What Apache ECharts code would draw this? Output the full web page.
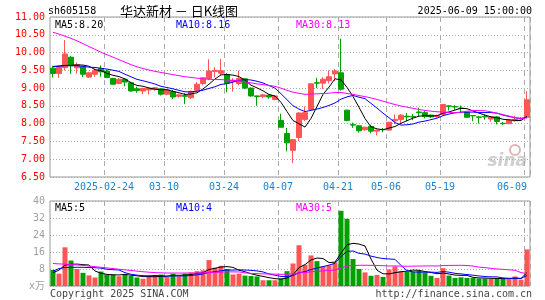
<!DOCTYPE html>
<html>
<head>
<meta charset="utf-8">
<script src="https://cdn.jsdelivr.net/npm/echarts@6/dist/echarts.min.js"></script>
<style>
  html, body { margin: 0; padding: 0; background: #fff; }
  #chart { width: 545px; height: 300px; }
</style>
</head>
<body>
<div id="chart"></div>
<script>
// trading days shown (2025)
const dates = [
  '2025-02-11', '2025-02-12', '2025-02-13', '2025-02-14',
  '2025-02-17', '2025-02-18', '2025-02-19', '2025-02-20', '2025-02-21',
  '2025-02-24', '2025-02-25', '2025-02-26', '2025-02-27', '2025-02-28',
  '2025-03-03', '2025-03-04', '2025-03-05', '2025-03-06', '2025-03-07',
  '2025-03-10', '2025-03-11', '2025-03-12', '2025-03-13', '2025-03-14',
  '2025-03-17', '2025-03-18', '2025-03-19', '2025-03-20', '2025-03-21',
  '2025-03-24', '2025-03-25', '2025-03-26', '2025-03-27', '2025-03-28',
  '2025-03-31', '2025-04-01', '2025-04-02', '2025-04-03',
  '2025-04-07', '2025-04-08', '2025-04-09', '2025-04-10', '2025-04-11',
  '2025-04-14', '2025-04-15', '2025-04-16', '2025-04-17', '2025-04-18',
  '2025-04-21', '2025-04-22', '2025-04-23', '2025-04-24', '2025-04-25',
  '2025-04-28', '2025-04-29', '2025-04-30',
  '2025-05-06', '2025-05-07', '2025-05-08', '2025-05-09',
  '2025-05-12', '2025-05-13', '2025-05-14', '2025-05-15', '2025-05-16',
  '2025-05-19', '2025-05-20', '2025-05-21', '2025-05-22', '2025-05-23',
  '2025-05-26', '2025-05-27', '2025-05-28', '2025-05-29', '2025-05-30',
  '2025-06-03', '2025-06-04', '2025-06-05', '2025-06-06',
  '2025-06-09'
];
const tickDates = ['2025-02-24', '2025-03-10', '2025-03-24', '2025-04-07',
  '2025-04-21', '2025-05-06', '2025-05-19', '2025-06-09'];

const opens = [
  9.56, 9.41, 9.58, 9.87, 9.57, 9.60, 9.31, 9.39, 9.55, 9.48,
  9.27, 9.13, 9.25, 9.15, 8.98, 8.92, 8.95, 8.96, 8.98, 8.83,
  8.90, 8.77, 8.79, 8.73, 8.94, 9.13, 9.27, 9.47, 9.42, 9.38,
  9.18, 9.13, 9.26, 9.00, 8.78, 8.76, 8.80, 8.68, 8.09, 7.72,
  7.25, 7.61, 8.12, 8.40, 9.15, 9.14, 9.21, 9.40, 9.43, 8.38,
  7.97, 7.94, 7.83, 7.92, 7.79, 7.84, 7.82, 8.08, 8.12, 8.21,
  8.20, 8.33, 8.31, 8.24, 8.20, 8.26, 8.50, 8.48, 8.44, 8.32,
  8.23, 8.19, 8.20, 8.13, 8.19, 8.01, 8.00, 8.08, 8.13, 8.18
];
const closes = [
  9.41, 9.60, 9.96, 9.63, 9.66, 9.39, 9.43, 9.50, 9.46, 9.30,
  9.11, 9.25, 9.17, 8.92, 8.93, 8.99, 9.00, 9.01, 8.83, 8.95,
  8.75, 8.81, 8.77, 8.90, 9.11, 9.29, 9.48, 9.50, 9.49, 9.14,
  9.22, 9.27, 9.00, 8.78, 8.76, 8.81, 8.75, 8.78, 7.90, 7.46,
  7.55, 8.30, 8.31, 9.12, 9.14, 9.25, 9.32, 9.48, 8.97, 8.09,
  7.96, 7.80, 7.90, 7.79, 7.82, 7.83, 8.04, 8.12, 8.24, 8.19,
  8.19, 8.31, 8.20, 8.19, 8.23, 8.54, 8.49, 8.47, 8.43, 8.18,
  8.22, 8.18, 8.19, 8.19, 8.06, 8.00, 8.10, 8.12, 8.16, 8.67
];
const lows = [
  9.30, 9.29, 9.50, 9.40, 9.41, 9.31, 9.29, 9.32, 9.32, 9.28,
  9.09, 9.11, 9.05, 8.90, 8.87, 8.83, 8.82, 8.93, 8.79, 8.80,
  8.69, 8.73, 8.55, 8.69, 8.90, 9.08, 9.22, 9.30, 9.37, 8.88,
  8.90, 9.08, 8.97, 8.76, 8.50, 8.72, 8.70, 8.66, 7.90, 7.22,
  6.89, 7.52, 8.07, 8.38, 9.00, 8.97, 9.13, 9.20, 8.93, 8.07,
  7.88, 7.75, 7.80, 7.73, 7.67, 7.76, 7.80, 7.99, 8.00, 8.07,
  8.10, 8.20, 8.15, 8.16, 8.17, 8.23, 8.37, 8.38, 8.33, 8.16,
  8.07, 8.00, 8.11, 8.05, 7.98, 7.96, 7.99, 8.06, 8.11, 8.16
];
const highs = [
  9.63, 9.62, 10.35, 9.90, 9.72, 9.62, 9.46, 9.55, 9.64, 9.52,
  9.29, 9.28, 9.28, 9.18, 9.04, 9.01, 9.03, 9.03, 9.00, 8.97,
  8.95, 8.84, 8.86, 8.94, 9.17, 9.31, 9.81, 9.59, 9.82, 9.42,
  9.28, 9.49, 9.28, 9.02, 8.79, 8.84, 8.82, 8.80, 8.28, 7.88,
  7.57, 8.32, 8.48, 9.13, 9.29, 9.31, 9.50, 9.53, 10.39, 8.39,
  8.03, 7.95, 7.91, 7.97, 7.83, 7.88, 8.05, 8.26, 8.27, 8.30,
  8.27, 8.45, 8.36, 8.26, 8.25, 8.55, 8.51, 8.52, 8.51, 8.34,
  8.24, 8.22, 8.26, 8.22, 8.21, 8.05, 8.11, 8.22, 8.19, 8.91
];
// volume, 万手
const volumes = [
  7.6, 5.8, 18.2, 12.0, 8.0, 6.2, 5.0, 4.0, 6.8, 5.3,
  5.3, 4.6, 5.4, 4.7, 4.0, 3.4, 4.6, 5.2, 5.4, 4.2,
  5.8, 4.6, 5.8, 6.4, 7.0, 7.4, 12.2, 8.6, 9.5, 8.0,
  5.4, 5.8, 4.9, 4.7, 4.5, 2.7, 2.7, 2.7, 3.6, 7.0,
  10.6, 19.2, 10.0, 14.4, 11.7, 9.3, 9.7, 11.0, 35.4, 31.6,
  12.7, 8.0, 6.4, 4.8, 5.2, 4.3, 7.8, 9.2, 7.0, 6.7,
  6.8, 7.1, 6.4, 4.8, 3.8, 8.4, 4.9, 3.8, 4.1, 3.8,
  3.8, 3.5, 3.5, 3.5, 3.5, 3.5, 3.2, 4.5, 3.0, 17.2
];

// moving-average values at the left edge (need days before the window)
const ma5Head = [9.60, 9.62, 9.64, 9.64];
const ma10Head = [9.61, 9.62, 9.63, 9.63, 9.63, 9.61, 9.59, 9.58, 9.56];
const ma30Head = [10.57, 10.52, 10.46, 10.40, 10.33, 10.25, 10.17, 10.09, 10.01, 9.94,
  9.87, 9.80, 9.73, 9.66, 9.60, 9.55, 9.51, 9.47, 9.44, 9.41,
  9.38, 9.35, 9.32, 9.30, 9.28, 9.26, 9.25, 9.24, 9.24];
const volMa5Head = [6.2, 7.5, 9.8, 10.2];
const volMa10Head = [7.0, 8.2, 8.7, 8.8, 8.8, 8.8, 8.7, 8.6, 8.4];
const volMa30Head = [10.6, 10.4, 10.3, 10.1, 9.9, 9.7, 9.4, 9.1, 8.8, 8.5,
  8.2, 7.9, 7.6, 7.3, 7.0, 6.7, 6.5, 6.3, 6.2, 6.1,
  6.1, 6.1, 6.1, 6.1, 6.1, 6.2, 6.3, 6.4, 6.5];

const UP = '#ff5555';
const DOWN = '#00a000';
const MONO = '"DejaVu Sans Mono", "Noto Sans CJK SC", monospace';

function movingAvg(values, n, head) {
  return values.map((v, i) => {
    if (i < n - 1) return head[i];
    let s = 0;
    for (let k = i - n + 1; k <= i; k++) s += values[k];
    return +(s / n).toFixed(3);
  });
}

const kData = dates.map((d, i) => [opens[i], closes[i], lows[i], highs[i]]);
const volData = volumes.map((v, i) => ({
  value: v,
  itemStyle: { color: closes[i] > opens[i] ? UP : DOWN }
}));

const chart = echarts.init(document.getElementById('chart'), null, { renderer: 'canvas' });

const isTick = (i) => tickDates.indexOf(dates[i]) >= 0;
const dashedV = { show: true, interval: isTick, lineStyle: { color: '#aaa', type: [5, 4], width: 1 } };
const dottedH = { show: true, lineStyle: { color: '#aaa', type: [1, 2], width: 1 } };

function maLine(name, data, color, xi, yi) {
  return {
    name, type: 'line', data, xAxisIndex: xi, yAxisIndex: yi,
    showSymbol: false, symbol: 'none', smooth: false,
    lineStyle: { color, width: 1 }, z: 5
  };
}

function txt(x, y, text, fill, align, font) {
  return {
    type: 'text', x, y, silent: true,
    style: { text, fill, align: align || 'left', verticalAlign: 'middle', font: font || ('10px ' + MONO) }
  };
}

const option = {
  animation: false,
  backgroundColor: '#fff',
  grid: [
    { left: 50, top: 17, width: 480, height: 160, show: true, borderColor: '#999', borderWidth: 1, backgroundColor: 'transparent' },
    { left: 50, top: 201, width: 480, height: 85, show: true, borderColor: '#999', borderWidth: 1, backgroundColor: 'transparent' }
  ],
  xAxis: [
    {
      type: 'category', data: dates, gridIndex: 0, boundaryGap: true,
      axisLine: { show: false }, axisTick: { show: false },
      splitLine: dashedV,
      axisLabel: {
        interval: isTick, margin: 5,
        formatter: (v, i) => {
          const t = v === tickDates[0] ? v : v.slice(5);
          return i === dates.length - 1 ? '{e|' + t + '}' : '{c|' + t + '}';
        },
        rich: {
          c: { color: '#1a84cf', fontFamily: MONO, fontSize: 10, padding: [0, 6, 0, 0] },
          e: { color: '#1a84cf', fontFamily: MONO, fontSize: 10, padding: [0, 30, 0, 0] }
        }
      }
    },
    {
      type: 'category', data: dates, gridIndex: 1, boundaryGap: true,
      axisLine: { show: false }, axisTick: { show: false }, axisLabel: { show: false },
      splitLine: dashedV
    }
  ],
  yAxis: [
    {
      type: 'value', gridIndex: 0, min: 6.5, max: 11, interval: 0.5,
      axisLine: { show: false }, axisTick: { show: false },
      splitLine: dottedH,
      axisLabel: { color: '#ff0000', fontFamily: MONO, fontSize: 10, margin: 5, formatter: (v) => v.toFixed(2) }
    },
    {
      type: 'value', gridIndex: 1, min: 0, max: 40, interval: 8,
      axisLine: { show: false }, axisTick: { show: false },
      splitLine: dottedH,
      axisLabel: { color: '#a0a0a0', fontFamily: MONO, fontSize: 10, margin: 5, formatter: (v) => v === 0 ? 'x万' : String(v) }
    }
  ],
  series: [
    {
      name: 'K', type: 'candlestick', data: kData, xAxisIndex: 0, yAxisIndex: 0,
      barWidth: 5,
      itemStyle: { color: UP, color0: DOWN, borderColor: UP, borderColor0: DOWN, borderWidth: 1 },
      z: 3
    },
    maLine('MA5', movingAvg(closes, 5, ma5Head), '#000000', 0, 0),
    maLine('MA10', movingAvg(closes, 10, ma10Head), '#0000ff', 0, 0),
    maLine('MA30', movingAvg(closes, 30, ma30Head), '#ff00ff', 0, 0),
    { name: 'VOL', type: 'bar', data: volData, xAxisIndex: 1, yAxisIndex: 1, barWidth: 5, z: 3 },
    maLine('VMA5', movingAvg(volumes, 5, volMa5Head), '#000000', 1, 1),
    maLine('VMA10', movingAvg(volumes, 10, volMa10Head), '#0000ff', 1, 1),
    maLine('VMA30', movingAvg(volumes, 30, volMa30Head), '#ff00ff', 1, 1)
  ],
  graphic: [
    txt(48, 11, 'sh605158', '#000'),
    txt(179, 11, '华达新材 － 日K线图', '#000', 'center', '13px "Noto Sans CJK SC", sans-serif'),
    txt(532, 11, '2025-06-09 15:00:00', '#000', 'right'),
    txt(55, 25, 'MA5:8.20', '#000'),
    txt(176, 25, 'MA10:8.16', '#0000ff'),
    txt(296, 25, 'MA30:8.13', '#ff00ff'),
    txt(55, 208, 'MA5:5', '#000'),
    txt(176, 208, 'MA10:4', '#0000ff'),
    txt(296, 208, 'MA30:5', '#ff00ff'),
    txt(50, 294, 'Copyright 2025 SINA.COM', '#444'),
    txt(532, 294, 'http://finance.sina.com.cn', '#444', 'right'),
    {
      type: 'circle', silent: true, shape: { cx: 515, cy: 150, r: 5 },
      style: { fill: 'none', stroke: '#e2b4b4', lineWidth: 2 }
    },
    txt(527, 162, 'sina', '#cfcfcf', 'right', 'italic bold 17px "DejaVu Sans", sans-serif')
  ]
};

chart.setOption(option);
</script>
</body>
</html>
